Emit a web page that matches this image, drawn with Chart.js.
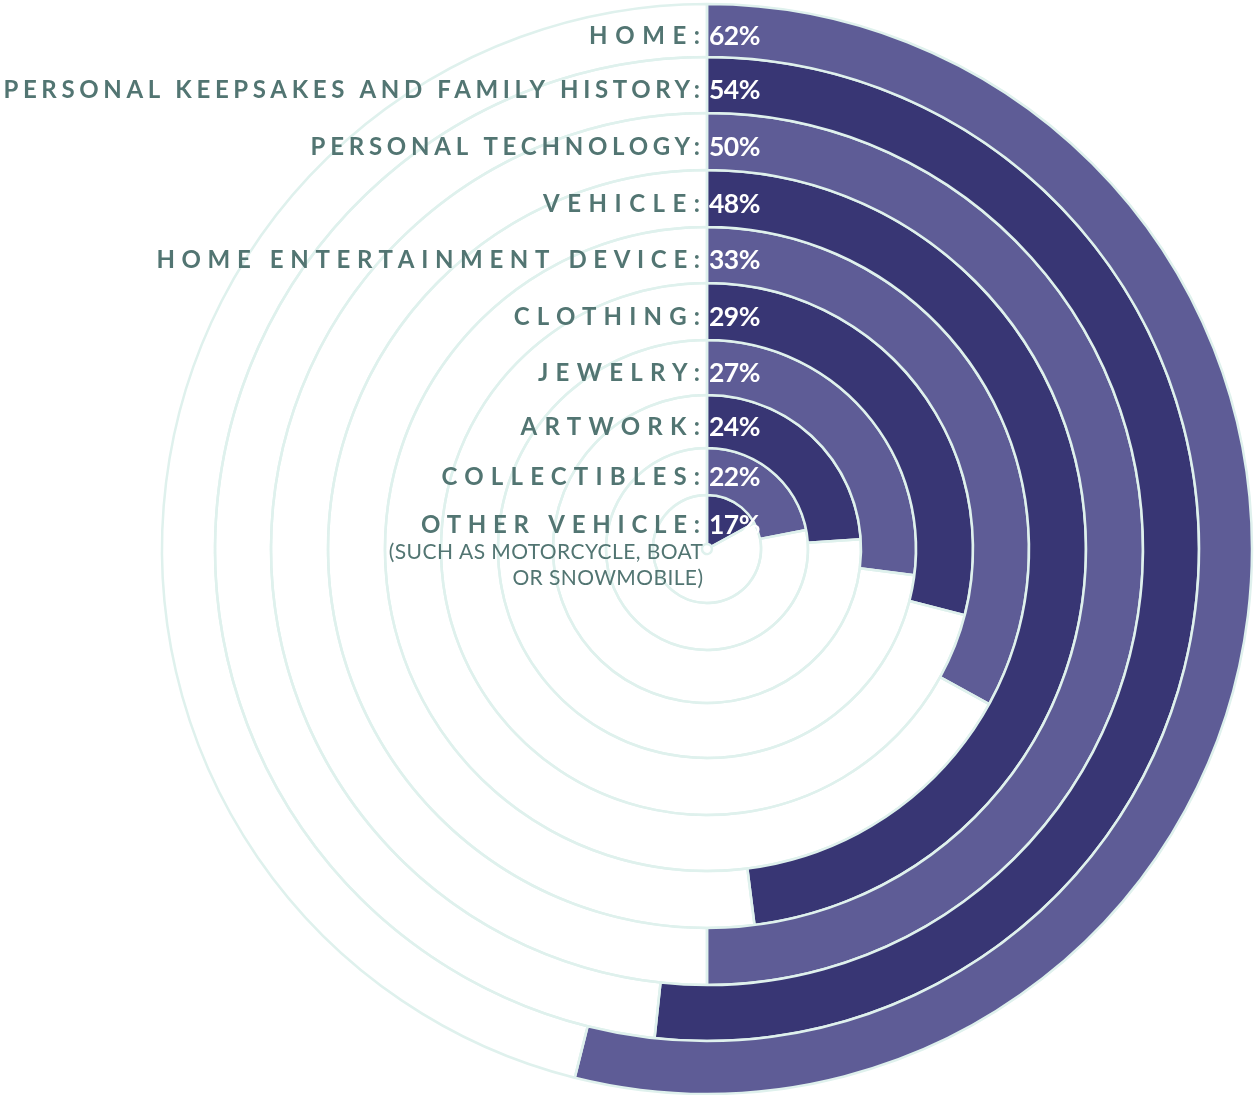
<!DOCTYPE html>
<html>
<head>
<meta charset="utf-8">
<script src="https://cdn.jsdelivr.net/npm/chart.js@4.4.0/dist/chart.umd.min.js"></script>
<style>
  html, body { margin: 0; padding: 0; background: #ffffff; }
  #wrap { position: relative; width: 1254px; height: 1095px; }
</style>
</head>
<body>
<div id="wrap"><canvas id="c"></canvas></div>
<script>
// ---- data ----
const categories = ['HOME:', 'PERSONAL KEEPSAKES AND FAMILY HISTORY:', 'PERSONAL TECHNOLOGY:', 'VEHICLE:',
  'HOME ENTERTAINMENT DEVICE:', 'CLOTHING:', 'JEWELRY:', 'ARTWORK:', 'COLLECTIBLES:', 'OTHER VEHICLE:'];
const percentLabels = ['62%', '54%', '50%', '48%', '33%', '29%', '27%', '24%', '22%', '17%'];
// share of the full circle covered by each drawn arc (as measured in the picture)
const arcShares = [53.9, 51.7, 50, 48, 33, 29, 27, 24, 22, 17];
const footnote = ['(SUCH AS MOTORCYCLE, BOAT', 'OR SNOWMOBILE)'];

// ---- styling ----
const LIGHT = '#5e5c96';
const DARK = '#383674';
const MINT = '#dff1ed';
const TEXT = '#527572';
const ringWeights = [53, 56, 57, 57, 56, 57, 55, 53, 47, 49];
const labelTracking = [7.6, 4.65, 4.75, 7.5, 6.64, 7.2, 7.3, 7.3, 7.2, 6.75];

const labelPlugin = {
  id: 'ringLabels',
  afterDatasetsDraw(chart) {
    const ctx = chart.ctx;
    ctx.save();
    categories.forEach((cat, i) => {
      const arc = chart.getDatasetMeta(i).data[0];
      const p = arc.getProps(['x', 'y', 'innerRadius', 'outerRadius'], true);
      const ty = p.y - (p.innerRadius + p.outerRadius) / 2 + 5.5;
      // category label
      ctx.font = '700 24px Lato';
      ctx.fillStyle = TEXT;
      ctx.textAlign = 'right';
      ctx.textBaseline = 'middle';
      const ls = labelTracking[i];
      ctx.letterSpacing = ls + 'px';
      ctx.fillText(cat, p.x - 7 + ls, ty);
      // percent
      ctx.letterSpacing = '-0.5px';
      ctx.font = '700 26.5px Lato';
      ctx.fillStyle = '#ffffff';
      ctx.textAlign = 'left';
      ctx.fillText(percentLabels[i], p.x + 2, ty);
      if (i === categories.length - 1) {
        ctx.letterSpacing = '0.4px';
        ctx.font = '400 21px Lato';
        ctx.fillStyle = TEXT;
        ctx.textAlign = 'right';
        footnote.forEach((t, k) => ctx.fillText(t, p.x - 4 + 0.4, ty + 27 + k * 26));
      }
    });
    ctx.restore();
  }
};

new Chart(document.getElementById('c'), {
  type: 'doughnut',
  data: {
    labels: ['share', 'rest'],
    datasets: arcShares.map((v, i) => ({
      data: [v, 100 - v],
      backgroundColor: [i % 2 === 0 ? LIGHT : DARK, 'rgba(0,0,0,0)'],
      borderColor: MINT,
      borderWidth: 2.5,
      weight: ringWeights[i],
      hoverOffset: 0
    }))
  },
  options: {
    responsive: true,
    maintainAspectRatio: false,
    animation: false,
    events: [],
    radius: 545,
    cutout: 5,
    rotation: 0,
    circumference: 360,
    layout: { padding: { left: 160, right: 0, top: 3, bottom: 0 } },
    plugins: { legend: { display: false }, tooltip: { enabled: false } }
  },
  plugins: [labelPlugin]
});
</script>
</body>
</html>
